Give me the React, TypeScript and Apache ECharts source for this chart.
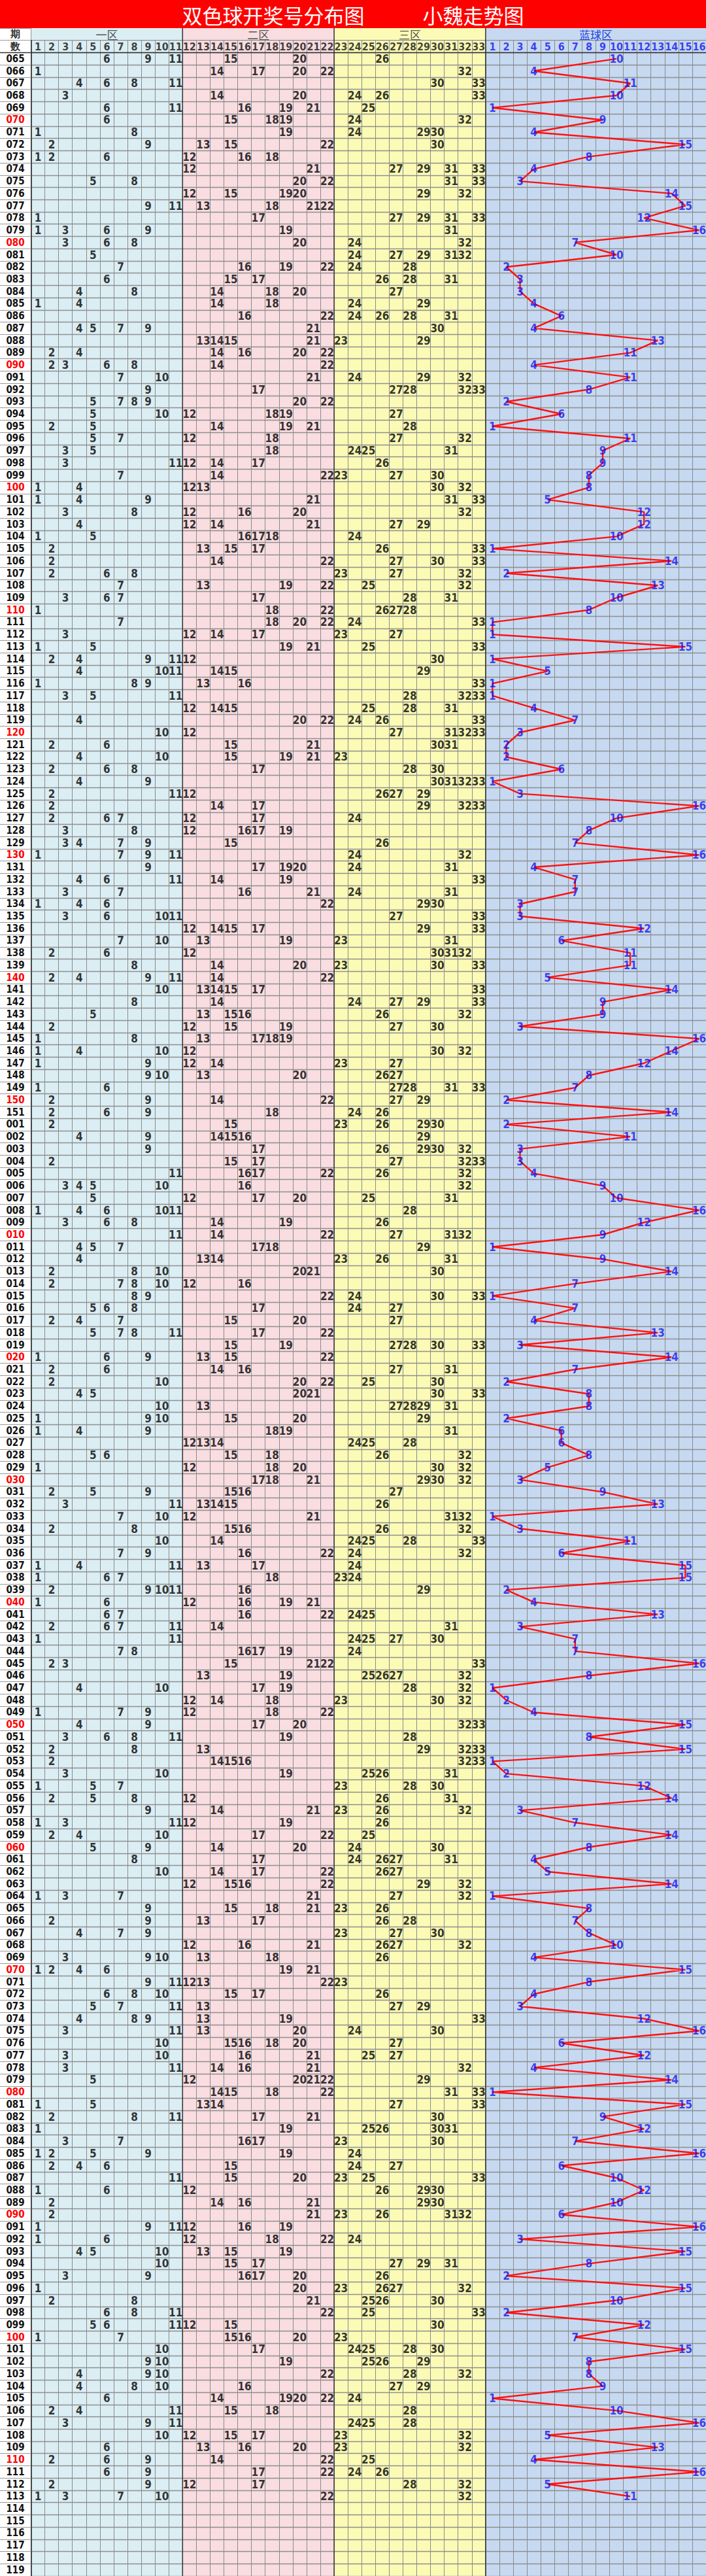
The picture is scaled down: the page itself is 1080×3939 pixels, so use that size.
import React, { useEffect, useRef } from "react";
import * as echarts from "echarts";

function seq(a: number, b: number, pad: number): string[] {
  const out: string[] = [];
  for (let i = a; i <= b; i++) out.push(String(i).padStart(pad, "0"));
  return out;
}

// ---- labels ----
const titleLeft = "双色球开奖号分布图";
const titleRight = "小魏走势图";
const headerRows = ["期", "数"];
const zoneNames = ["一区", "二区", "三区", "蓝球区"];
const periodsA = seq(65, 151, 3);
const periodsB = seq(1, 119, 3);
const redColumns = seq(1, 33, 0);
const blueColumns = seq(1, 16, 0);

// ---- draws (periods 065-151) ----
const redsA: number[][] = [
  [6, 9, 11, 15, 20, 26], [1, 14, 17, 20, 22, 32], [4, 6, 8, 11, 30, 33], [3, 14, 20, 24, 26, 33],
  [6, 11, 16, 19, 21, 25], [6, 15, 18, 19, 24, 32], [1, 8, 19, 24, 29, 30], [2, 9, 13, 15, 22, 30],
  [1, 2, 6, 12, 16, 18], [12, 21, 27, 29, 31, 33], [5, 8, 20, 22, 31, 33], [12, 15, 19, 20, 29, 32],
  [9, 11, 13, 18, 21, 22], [1, 17, 27, 29, 31, 33], [1, 3, 6, 9, 19, 31], [3, 6, 8, 20, 24, 32],
  [5, 24, 27, 29, 31, 32], [7, 16, 19, 22, 24, 28], [6, 15, 17, 26, 28, 31], [4, 8, 14, 18, 20, 27],
  [1, 4, 14, 18, 24, 29], [16, 22, 24, 26, 28, 31], [4, 5, 7, 9, 21, 30], [13, 14, 15, 21, 23, 29],
  [2, 4, 14, 16, 20, 22], [2, 3, 6, 8, 14, 22], [7, 10, 21, 24, 29, 32], [9, 17, 27, 28, 32, 33],
  [5, 7, 8, 9, 20, 22], [5, 10, 12, 18, 19, 27], [2, 5, 14, 19, 21, 28], [5, 7, 12, 18, 27, 32],
  [3, 5, 18, 24, 25, 31], [3, 11, 12, 14, 17, 26], [7, 14, 22, 23, 27, 30], [1, 4, 12, 13, 30, 32],
  [1, 4, 9, 21, 31, 33], [3, 8, 12, 16, 20, 32], [4, 12, 14, 21, 27, 29], [1, 5, 16, 17, 18, 24],
  [2, 13, 15, 17, 26, 33], [2, 14, 22, 27, 30, 33], [2, 6, 8, 23, 27, 32], [7, 13, 19, 22, 25, 32],
  [3, 6, 7, 17, 28, 31], [1, 18, 22, 26, 27, 28], [7, 18, 20, 22, 24, 33], [3, 12, 14, 17, 23, 27],
  [1, 5, 19, 21, 25, 33], [2, 4, 9, 11, 12, 30], [4, 10, 11, 14, 15, 29], [1, 8, 9, 13, 16, 33],
  [3, 5, 11, 28, 32, 33], [12, 14, 15, 25, 28, 31], [4, 20, 22, 24, 26, 33], [10, 12, 27, 31, 32, 33],
  [2, 6, 15, 21, 30, 31], [4, 10, 15, 19, 21, 23], [2, 6, 8, 17, 28, 30], [4, 9, 30, 31, 32, 33],
  [2, 11, 12, 26, 27, 29], [2, 14, 17, 29, 32, 33], [2, 6, 7, 12, 17, 24], [3, 8, 12, 16, 17, 19],
  [3, 4, 7, 9, 15, 26], [1, 7, 9, 11, 24, 32], [9, 17, 19, 20, 24, 31], [4, 6, 11, 14, 19, 33],
  [3, 7, 16, 21, 24, 31], [1, 4, 6, 22, 29, 30], [3, 6, 10, 11, 27, 33], [12, 14, 15, 17, 29, 33],
  [7, 10, 13, 19, 23, 31], [2, 6, 12, 30, 31, 32], [8, 14, 20, 23, 30, 33], [2, 4, 9, 11, 14, 22],
  [10, 13, 14, 15, 17, 33], [8, 14, 24, 27, 29, 33], [5, 13, 15, 16, 26, 32], [2, 12, 15, 19, 27, 30],
  [1, 8, 13, 17, 18, 19], [1, 4, 10, 12, 30, 32], [1, 9, 12, 14, 23, 27], [9, 10, 13, 20, 26, 27],
  [1, 6, 27, 28, 31, 33], [2, 9, 14, 22, 27, 29], [2, 6, 9, 18, 24, 26],
];
const bluesA: number[] = [
  10, 4, 11, 10, 1, 9, 4, 15, 8, 4, 3, 14, 15, 12, 16, 7, 10, 2, 3, 3,
  4, 6, 4, 13, 11, 4, 11, 8, 2, 6, 1, 11, 9, 9, 8, 8, 5, 12, 12, 10,
  1, 14, 2, 13, 10, 8, 1, 1, 15, 1, 5, 1, 1, 4, 7, 3, 2, 2, 6, 1,
  3, 16, 10, 8, 7, 16, 4, 7, 7, 3, 3, 12, 6, 11, 11, 5, 14, 9, 9, 3,
  16, 14, 12, 8, 7, 2, 14,
];

// ---- draws (periods 001-113; 114-119 not yet drawn) ----
const redsB: number[][] = [
  [2, 15, 23, 26, 29, 30], [4, 9, 14, 15, 16, 29], [9, 17, 26, 29, 30, 32], [2, 15, 17, 27, 32, 33],
  [11, 16, 17, 22, 26, 32], [3, 4, 5, 10, 16, 32], [5, 12, 17, 20, 25, 31], [1, 4, 6, 10, 11, 28],
  [3, 6, 8, 14, 19, 26], [11, 14, 22, 27, 31, 32], [4, 5, 7, 17, 18, 29], [4, 13, 14, 23, 26, 31],
  [2, 8, 10, 20, 21, 30], [2, 7, 8, 10, 12, 16], [8, 9, 22, 24, 30, 33], [5, 6, 8, 17, 24, 27],
  [2, 4, 7, 15, 20, 27], [5, 7, 8, 11, 17, 22], [15, 19, 27, 28, 30, 33], [1, 6, 9, 13, 15, 22],
  [2, 6, 14, 16, 27, 31], [2, 10, 20, 22, 25, 30], [4, 5, 20, 21, 30, 33], [10, 13, 27, 28, 29, 31],
  [1, 9, 10, 15, 20, 29], [1, 4, 9, 18, 19, 31], [12, 13, 14, 24, 25, 28], [5, 6, 15, 18, 26, 32],
  [1, 12, 18, 20, 30, 32], [17, 18, 21, 29, 30, 32], [2, 5, 9, 15, 16, 27], [3, 11, 13, 14, 15, 26],
  [7, 10, 12, 21, 31, 32], [2, 8, 15, 16, 26, 32], [10, 14, 24, 25, 28, 33], [7, 9, 16, 22, 24, 32],
  [1, 4, 11, 13, 17, 24], [1, 6, 7, 18, 23, 24], [2, 9, 10, 11, 16, 29], [1, 6, 12, 16, 19, 21],
  [6, 7, 16, 22, 24, 25], [2, 6, 7, 11, 14, 31], [1, 11, 24, 25, 27, 30], [7, 8, 16, 17, 19, 24],
  [2, 3, 15, 21, 22, 33], [13, 19, 25, 26, 27, 32], [4, 10, 17, 19, 28, 32], [12, 14, 18, 23, 30, 32],
  [1, 7, 9, 12, 18, 22], [4, 9, 17, 20, 32, 33], [3, 6, 8, 11, 19, 28], [2, 8, 13, 29, 32, 33],
  [2, 14, 15, 16, 32, 33], [3, 10, 19, 25, 26, 31], [1, 5, 7, 23, 28, 30], [2, 5, 8, 12, 26, 31],
  [9, 14, 21, 23, 26, 32], [1, 3, 11, 12, 19, 26], [2, 4, 10, 17, 22, 25], [5, 9, 14, 20, 24, 30],
  [8, 17, 24, 26, 27, 31], [10, 14, 17, 22, 26, 27], [12, 15, 16, 22, 29, 32], [1, 3, 7, 21, 27, 32],
  [9, 15, 18, 21, 23, 26], [2, 9, 13, 17, 26, 28], [4, 7, 9, 23, 27, 30], [12, 16, 21, 26, 27, 32],
  [3, 9, 10, 13, 18, 26], [1, 2, 4, 6, 19, 21], [9, 11, 12, 13, 22, 23], [6, 8, 10, 15, 17, 26],
  [5, 7, 11, 13, 27, 29], [4, 8, 9, 13, 19, 33], [3, 11, 13, 20, 24, 30], [10, 15, 16, 18, 20, 27],
  [3, 10, 16, 21, 25, 27], [3, 11, 14, 16, 21, 32], [5, 12, 20, 21, 22, 29], [14, 15, 18, 22, 31, 33],
  [1, 5, 13, 14, 27, 33], [2, 8, 11, 17, 21, 30], [1, 19, 25, 26, 30, 31], [3, 7, 16, 17, 23, 30],
  [1, 2, 5, 9, 19, 24], [2, 4, 6, 15, 24, 27], [11, 15, 20, 23, 25, 33], [1, 6, 12, 26, 29, 30],
  [2, 14, 16, 21, 29, 30], [2, 21, 23, 26, 31, 32], [1, 9, 11, 12, 16, 19], [1, 6, 12, 18, 22, 24],
  [4, 5, 10, 13, 15, 19], [10, 15, 17, 27, 29, 31], [3, 9, 16, 17, 20, 26], [1, 20, 23, 26, 27, 32],
  [2, 8, 21, 25, 26, 30], [6, 8, 11, 22, 25, 33], [5, 6, 11, 12, 15, 30], [1, 7, 15, 16, 20, 23],
  [10, 17, 24, 25, 28, 30], [9, 10, 19, 25, 26, 29], [4, 9, 10, 22, 28, 32], [4, 8, 10, 16, 27, 29],
  [6, 14, 19, 20, 22, 24], [2, 4, 11, 15, 18, 28], [3, 9, 11, 24, 25, 28], [10, 12, 15, 17, 23, 32],
  [6, 13, 16, 20, 23, 32], [2, 6, 9, 14, 22, 25], [6, 9, 17, 22, 24, 26], [2, 9, 12, 17, 28, 32],
  [1, 3, 7, 10, 22, 32],
];
const bluesB: number[] = [
  2, 11, 3, 3, 4, 9, 10, 16, 12, 9, 1, 9, 14, 7, 1, 7, 4, 13, 3, 14,
  7, 2, 8, 8, 2, 6, 6, 8, 5, 3, 9, 13, 1, 3, 11, 6, 15, 15, 2, 4,
  13, 3, 7, 7, 16, 8, 1, 2, 4, 15, 8, 15, 1, 2, 12, 14, 3, 7, 14, 8,
  4, 5, 14, 1, 8, 7, 8, 10, 4, 15, 8, 4, 3, 12, 16, 6, 12, 4, 14, 1,
  15, 9, 12, 7, 16, 6, 10, 12, 10, 6, 16, 3, 15, 8, 2, 15, 10, 2, 12, 7,
  15, 8, 8, 9, 1, 10, 16, 5, 13, 4, 16, 5, 11,
];

// ---- styling ----
const NARROW = "'DejaVu Sans Condensed', 'Liberation Sans Narrow', 'Arial Narrow', 'DejaVu Sans', sans-serif";
const CJK = "'Noto Sans CJK SC', 'Noto Sans', sans-serif";
const zoneColors = ["#dbeef4", "#f9dde1", "#fbfbb6", "#c6d9f1"];
const zoneTextColors = ["#555555", "#555555", "#555555", "#2244dd"];
const BLUE_TEXT = "#1515ee";

export default function App() {
  const ref = useRef<HTMLDivElement>(null);

  useEffect(() => {
    if (!ref.current) return;
    const chart = echarts.init(ref.current, null, { renderer: "svg" });

    const yCats = [...headerRows, ...periodsA, ...periodsB];
    const offA = headerRows.length;
    const offB = offA + periodsA.length;
    const nRed = redColumns.length;
    const nAll = nRed + blueColumns.length;

    const redPts: any[] = [];
    const bluePts: any[] = [];
    const linePts: any[] = [];
    const pushRows = (reds: number[][], blues: number[], off: number) => {
      reds.forEach((row, i) => row.forEach((n) => redPts.push([n - 0.5, off + i, n])));
      blues.forEach((b, i) => {
        bluePts.push([nRed + b - 0.5, off + i, b]);
        linePts.push([nRed + b - 0.5, off + i]);
      });
    };
    pushRows(redsA, bluesA, offA);
    pushRows(redsB, bluesB, offB);

    const headNums: any[] = [
      ...redColumns.map((c) => ({ value: [Number(c) - 0.5, 1, c], label: { color: "#111" } })),
      ...blueColumns.map((c) => ({ value: [nRed + Number(c) - 0.5, 1, c], label: { color: BLUE_TEXT } })),
    ];

    const zoneBounds = [0, 11, 22, 33, nAll];
    const zoneData = zoneNames.map((_, i) => [zoneBounds[i], 0, zoneBounds[i + 1]]);

    const numLabel = (color: string, size: number) => ({
      show: true,
      position: "inside",
      formatter: (p: any) => String(p.value[2]),
      fontSize: size,
      fontWeight: "bold",
      fontFamily: NARROW,
      color,
    });

    const option: any = {
      animation: false,
      backgroundColor: "#ffffff",
      grid: { left: 47.5, right: 0, top: 43, bottom: 0, containLabel: false },
      xAxis: {
        type: "value",
        min: 0,
        max: nAll,
        interval: 1,
        z: 3,
        axisLabel: { show: false },
        axisTick: { show: false },
        axisLine: { show: false },
        splitLine: { show: true, lineStyle: { color: "#8a8a8a", width: 1 } },
      },
      yAxis: {
        type: "category",
        data: yCats,
        inverse: true,
        z: 3,
        axisLine: { show: true, lineStyle: { color: "#222", width: 1.5 } },
        axisTick: { show: true, length: 47.5, interval: 0, lineStyle: { color: "#999", width: 1 } },
        axisLabel: {
          interval: 0,
          margin: 24,
          align: "center",
          fontSize: 15,
          fontWeight: "bold",
          fontFamily: NARROW,
          color: (v: string, idx: number) =>
            idx < 2 ? "#333" : /0$/.test(v) ? "#ff0000" : "#111",
        },
        splitLine: { show: true, interval: 0, lineStyle: { color: "#8f8f8f", width: 1.4 } },
      },
      graphic: [
        { type: "rect", left: 0, top: 0, shape: { width: 1080, height: 43 }, style: { fill: "#ff0000" }, z: 10 },
        {
          type: "text", x: 418, y: 22, z: 11,
          style: { text: titleLeft, fill: "#fff", font: `normal 31px ${CJK}`, align: "center", verticalAlign: "middle" },
        },
        {
          type: "text", x: 724, y: 22, z: 11,
          style: { text: titleRight, fill: "#fff", font: `normal 31px ${CJK}`, align: "center", verticalAlign: "middle" },
        },
      ],
      series: [
        {
          type: "custom",
          name: "zones",
          z: 1,
          silent: true,
          data: zoneData,
          renderItem: (params: any, api: any) => {
            const p0 = api.coord([api.value(0), 0]);
            const p1 = api.coord([api.value(2), 0]);
            const cs = params.coordSys;
            return {
              type: "rect",
              shape: { x: p0[0], y: cs.y, width: p1[0] - p0[0], height: cs.height },
              style: { fill: zoneColors[params.dataIndex] },
            };
          },
        },
        {
          type: "custom",
          name: "zoneHeads",
          z: 6,
          silent: true,
          data: zoneData,
          renderItem: (params: any, api: any) => {
            const p0 = api.coord([api.value(0), 0]);
            const p1 = api.coord([api.value(2), 0]);
            const h = api.size([0, 1])[1];
            const i = params.dataIndex;
            return {
              type: "group",
              children: [
                {
                  type: "rect",
                  shape: { x: p0[0], y: p0[1] - h / 2, width: p1[0] - p0[0], height: h - 0.7 },
                  style: { fill: zoneColors[i] },
                },
                {
                  type: "text",
                  x: (p0[0] + p1[0]) / 2,
                  y: p0[1],
                  style: {
                    text: zoneNames[i],
                    fill: zoneTextColors[i],
                    font: `normal 17px ${CJK}`,
                    align: "center",
                    verticalAlign: "middle",
                  },
                },
              ],
            };
          },
        },
        {
          type: "custom",
          name: "dividers",
          z: 7,
          silent: true,
          data: zoneBounds.slice(1, 4).map((b) => [b, 0]),
          renderItem: (params: any, api: any) => {
            const p = api.coord([api.value(0), 0]);
            const cs = params.coordSys;
            return {
              type: "line",
              shape: { x1: p[0], y1: cs.y, x2: p[0], y2: cs.y + cs.height },
              style: { stroke: "#333", lineWidth: 1.5 },
            };
          },
        },
        {
          type: "custom",
          name: "headRule",
          z: 7,
          silent: true,
          data: [[0, 1]],
          renderItem: (params: any, api: any) => {
            const p = api.coord([0, 1]);
            const h = api.size([0, 1])[1];
            const cs = params.coordSys;
            return {
              type: "line",
              shape: { x1: 0, y1: p[1] + h / 2, x2: cs.x + cs.width, y2: p[1] + h / 2 },
              style: { stroke: "#333", lineWidth: 1.5 },
            };
          },
        },
        {
          type: "line",
          name: "blueTrend",
          z: 8,
          silent: true,
          data: linePts,
          symbol: "none",
          lineStyle: { color: "#ff1010", width: 2.4 },
        },
        {
          type: "scatter",
          name: "headers",
          z: 9,
          silent: true,
          symbolSize: 1,
          itemStyle: { color: "transparent" },
          data: headNums,
          label: numLabel("#111", 16),
        },
        {
          type: "scatter",
          name: "red",
          z: 9,
          silent: true,
          symbolSize: 1,
          itemStyle: { color: "transparent" },
          data: redPts,
          label: numLabel("#000", 17),
        },
        {
          type: "scatter",
          name: "blue",
          z: 10,
          silent: true,
          symbolSize: 1,
          itemStyle: { color: "transparent" },
          data: bluePts,
          label: numLabel(BLUE_TEXT, 17),
        },
      ],
    };

    chart.setOption(option);
    return () => chart.dispose();
  }, []);

  return (
    <div
      ref={ref}
      style={{ position: "absolute", left: 0, top: 0, width: 1080, height: 3939, background: "#fff" }}
    />
  );
}
